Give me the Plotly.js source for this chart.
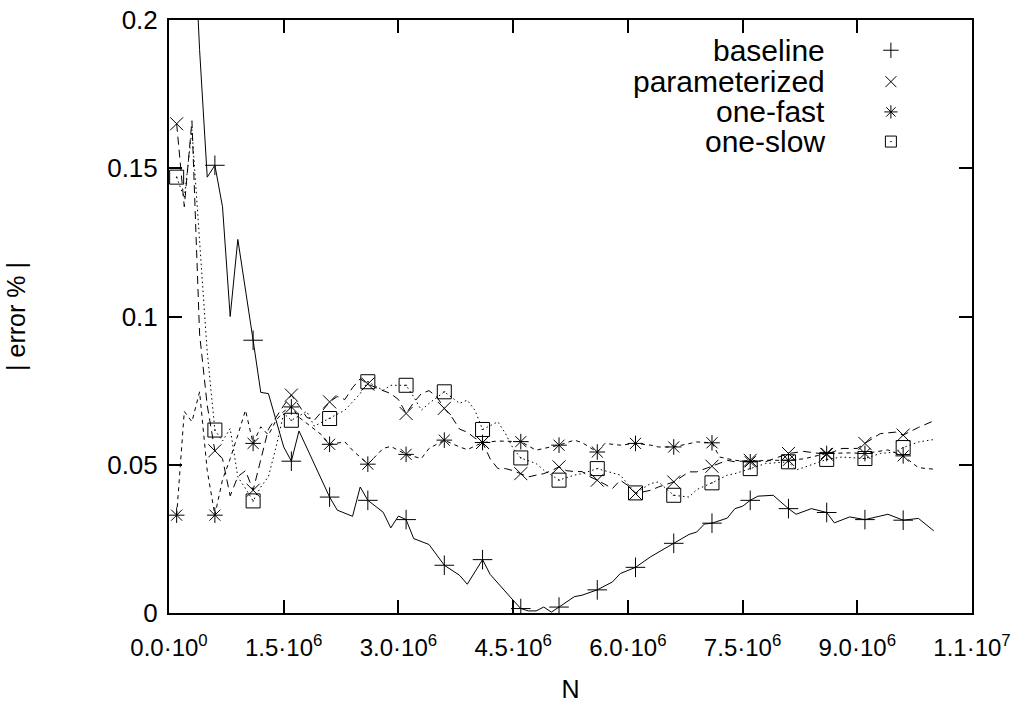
<!DOCTYPE html>
<html>
<head>
<meta charset="utf-8">
<script src="https://cdn.plot.ly/plotly-3.0.1.min.js"></script>
<style>html,body{margin:0;padding:0;background:#fff;}#chart{width:1029px;height:708px;}</style>
</head>
<body>
<div id="chart"></div>
<script>
// N in units of 10^6
const markerN = [0.1,0.6,1.1,1.6,2.1,2.6,3.1,3.6,4.1,4.6,5.1,5.6,6.1,6.6,7.1,7.6,8.1,8.6,9.1,9.6];

const baselineN = [0.1,0.2,0.3,0.4,0.5,0.6,0.7,0.8,0.9,1.1,1.2,1.3,1.5,1.6,1.7,2.1,2.2,2.4,2.5,2.6,2.8,2.9,3.0,3.1,3.2,3.4,3.6,3.8,3.9,4.1,4.2,4.5,4.6,4.7,4.8,4.9,5.0,5.1,5.3,5.4,5.6,5.8,5.9,6.1,6.3,6.6,6.8,6.9,7.0,7.1,7.3,7.4,7.5,7.6,7.7,7.9,8.1,8.2,8.4,8.6,8.7,8.9,9.1,9.4,9.6,9.8,10.0];
const baselineErr = [0.36,0.31,0.245,0.19,0.147,0.151,0.137,0.100,0.126,0.092,0.0744,0.074,0.056,0.0512,0.0614,0.0391,0.0347,0.0326,0.0425,0.038,0.034,0.0287,0.0327,0.0315,0.0251,0.0231,0.0161,0.0127,0.0097,0.018,0.013,0.0043,0.0015,0.0007,0.0007,0.002,0.0003,0.002,0.0055,0.006,0.0078,0.0105,0.0133,0.0154,0.019,0.0235,0.0265,0.0273,0.030,0.0303,0.032,0.0352,0.036,0.038,0.0394,0.0397,0.0352,0.0333,0.0352,0.0339,0.0304,0.0324,0.0315,0.0333,0.0313,0.0319,0.0277];

const paramN = [0.1,0.2,0.3,0.4,0.5,0.6,0.7,0.8,0.9,1.0,1.1,1.2,1.3,1.4,1.5,1.6,1.7,1.8,1.9,2.0,2.1,2.2,2.3,2.4,2.5,2.6,2.7,2.8,2.9,3.0,3.1,3.2,3.3,3.4,3.5,3.6,3.7,3.8,3.9,4.0,4.1,4.2,4.3,4.4,4.5,4.6,4.7,4.8,4.9,5.0,5.1,5.2,5.3,5.4,5.5,5.6,5.8,5.9,6.0,6.1,6.3,6.4,6.6,6.8,6.9,7.1,7.3,7.4,7.6,7.8,8.1,8.3,8.6,8.8,9.0,9.1,9.3,9.5,9.6,9.8,10.0];
const paramErr = [0.165,0.137,0.166,0.094,0.070,0.0547,0.052,0.0395,0.046,0.048,0.0414,0.052,0.062,0.066,0.070,0.0735,0.070,0.066,0.065,0.068,0.0712,0.073,0.072,0.076,0.079,0.0772,0.076,0.075,0.074,0.072,0.0673,0.071,0.074,0.075,0.073,0.069,0.066,0.062,0.061,0.059,0.0575,0.052,0.0487,0.0487,0.048,0.047,0.0459,0.0465,0.047,0.048,0.0493,0.048,0.0477,0.0477,0.046,0.0448,0.042,0.0448,0.043,0.0403,0.0414,0.0425,0.0442,0.0476,0.0476,0.0495,0.0515,0.051,0.0515,0.051,0.0538,0.0545,0.0535,0.0555,0.0555,0.0572,0.0605,0.061,0.060,0.0626,0.0648];

const fastN = [0.1,0.2,0.3,0.4,0.5,0.6,0.7,0.8,0.9,1.0,1.1,1.2,1.3,1.4,1.5,1.6,1.7,1.8,1.9,2.0,2.1,2.3,2.4,2.6,2.8,2.9,3.1,3.3,3.4,3.6,3.8,3.9,4.1,4.3,4.6,4.8,4.9,5.1,5.3,5.4,5.6,5.7,5.9,6.1,6.3,6.4,6.6,6.9,7.1,7.2,7.4,7.6,7.8,8.1,8.3,8.6,8.9,9.1,9.4,9.6,9.8,10.0];
const fastErr = [0.033,0.068,0.0645,0.0746,0.048,0.033,0.045,0.052,0.060,0.0684,0.0572,0.0628,0.060,0.065,0.068,0.0695,0.066,0.064,0.062,0.060,0.0569,0.0577,0.0549,0.0502,0.0555,0.0562,0.0535,0.0521,0.0555,0.0583,0.056,0.0551,0.0575,0.058,0.0578,0.0549,0.0555,0.0566,0.0583,0.0575,0.0543,0.0572,0.0566,0.0572,0.0566,0.056,0.056,0.0577,0.0574,0.0526,0.0515,0.051,0.0515,0.0515,0.052,0.0538,0.054,0.0538,0.055,0.053,0.049,0.0485];

const slowN = [0.1,0.2,0.3,0.4,0.5,0.6,0.7,0.8,0.9,1.0,1.1,1.2,1.3,1.4,1.5,1.6,1.8,1.9,2.1,2.3,2.5,2.6,2.8,2.9,3.1,3.2,3.3,3.4,3.6,3.8,3.9,4.0,4.1,4.3,4.4,4.5,4.6,4.8,4.9,5.1,5.3,5.4,5.6,5.7,5.9,6.1,6.3,6.4,6.6,6.8,6.9,7.1,7.3,7.4,7.6,7.8,8.1,8.2,8.6,8.8,9.1,9.3,9.5,9.6,9.8,10.0];
const slowErr = [0.147,0.140,0.163,0.125,0.088,0.0617,0.058,0.0622,0.0459,0.042,0.0378,0.0425,0.046,0.056,0.0673,0.065,0.068,0.063,0.0656,0.0684,0.074,0.078,0.0751,0.0768,0.0768,0.0729,0.0684,0.0707,0.0746,0.0707,0.0718,0.0684,0.0619,0.0645,0.0605,0.0555,0.0523,0.0504,0.0482,0.0448,0.0465,0.047,0.0487,0.048,0.0465,0.0405,0.0437,0.0442,0.0397,0.0391,0.0416,0.0439,0.0465,0.047,0.0487,0.0504,0.051,0.0482,0.0518,0.0526,0.0521,0.0538,0.0543,0.0558,0.0577,0.0585];

const xTickVals = [0,1.5,3.0,4.5,6.0,7.5,9.0,10.5];
const xTickText = ['0.0·10<sup>0</sup>','1.5·10<sup>6</sup>','3.0·10<sup>6</sup>','4.5·10<sup>6</sup>','6.0·10<sup>6</sup>','7.5·10<sup>6</sup>','9.0·10<sup>6</sup>','1.1·10<sup>7</sup>'];

const seriesNames = ['baseline','parameterized','one-fast','one-slow'];
const series = [
  {n: baselineN, v: baselineErr, dash: 'solid', sym: 'cross-thin-open', size: 14},
  {n: paramN, v: paramErr, dash: '8px,5px', sym: 'x-thin-open', size: 13},
  {n: fastN, v: fastErr, dash: '4px,4px', sym: 'asterisk-open', size: 13},
  {n: slowN, v: slowErr, dash: '1.5px,3px', sym: 'square-open-dot', size: 14}
];

const FONT = 'Liberation Sans, Arial, Helvetica, sans-serif';
const traces = [];
series.forEach((s, k) => {
  traces.push({x: s.n, y: s.v, type: 'scatter', mode: 'lines', showlegend: false,
    line: {color: '#000', width: 1, dash: s.dash}, hoverinfo: 'skip'});
  const mx = [], my = [];
  s.n.forEach((n, i) => { if (markerN.some(m => Math.abs(m - n) < 1e-9)) { mx.push(n); my.push(s.v[i]); } });
  traces.push({x: mx, y: my, type: 'scatter', mode: 'markers', name: seriesNames[k], showlegend: false,
    cliponaxis: true,
    marker: {symbol: s.sym, size: s.size, color: '#000', line: {color: '#000', width: 1}}});
});

// key (symbols on the right of right-aligned labels, as in the original)
const keyRows = [0.949, 0.896, 0.845, 0.795];
series.forEach((s, k) => {
  traces.push({x: [0.899], y: [keyRows[k]], xaxis: 'x2', yaxis: 'y2', type: 'scatter', mode: 'markers',
    showlegend: false, hoverinfo: 'skip',
    marker: {symbol: s.sym, size: 11, color: '#000', line: {color: '#000', width: 1}}});
});
const annotations = seriesNames.map((nm, k) => ({
  xref: 'paper', yref: 'paper', x: 0.8195, y: keyRows[k], xanchor: 'right', yanchor: 'middle',
  text: nm, showarrow: false, font: {family: FONT, size: 30, color: '#000'}
}));

const axisCommon = {
  ticks: 'inside', ticklen: 13, tickwidth: 2, tickcolor: '#000',
  showline: true, linewidth: 2, linecolor: '#000', mirror: 'ticks',
  showgrid: false, zeroline: false
};

const layout = {
  width: 1029, height: 708,
  margin: {l: 169, r: 57, t: 20, b: 95, pad: 0},
  paper_bgcolor: '#fff', plot_bgcolor: '#fff',
  showlegend: false,
  font: {family: FONT, color: '#000'},
  xaxis: Object.assign({}, axisCommon, {
    range: [0, 10.5], tickmode: 'array', tickvals: xTickVals, ticktext: xTickText,
    tickfont: {family: FONT, size: 24, color: '#000'},
    ticklabelstandoff: 12,
    title: {text: 'N', font: {family: FONT, size: 25, color: '#000'}, standoff: 21}
  }),
  yaxis: Object.assign({}, axisCommon, {
    range: [0, 0.2], tick0: 0, dtick: 0.05,
    tickfont: {family: FONT, size: 26, color: '#000'},
    ticklabelstandoff: 4,
    title: {text: '| error % |', font: {family: FONT, size: 25, color: '#000'}, standoff: 74}
  }),
  xaxis2: {overlaying: 'x', range: [0, 1], visible: false, fixedrange: true},
  yaxis2: {overlaying: 'y', range: [0, 1], visible: false, fixedrange: true},
  annotations: annotations
};

Plotly.newPlot('chart', traces, layout, {staticPlot: true, displayModeBar: false});
</script>
</body>
</html>
